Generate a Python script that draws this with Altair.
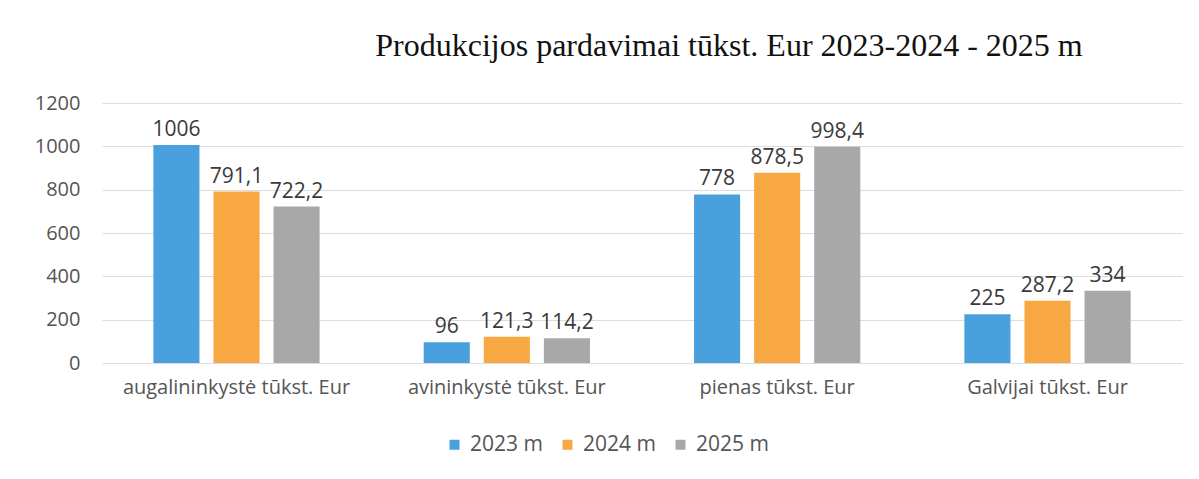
import altair as alt
import pandas as pd

categories = ["augalininkystė tūkst. Eur", "avininkystė tūkst. Eur", "pienas tūkst. Eur", "Galvijai tūkst. Eur"]
series = ["2023 m", "2024 m", "2025 m"]
v2023 = [1006, 96, 778, 225]
v2024 = [791.1, 121.3, 878.5, 287.2]
v2025 = [722.2, 114.2, 998.4, 334]
colors = ["#4A9FDD", "#F7A843", "#A8A8A8"]


def fmt(v):
    if float(v).is_integer():
        return str(int(v))
    return f"{v}".replace(".", ",")


rows = []
for s, vals in zip(series, [v2023, v2024, v2025]):
    for c, v in zip(categories, vals):
        rows.append({"cat": c, "series": s, "value": v, "label": fmt(v)})
df = pd.DataFrame(rows)

x = alt.X("cat:N", sort=categories, title=None,
          scale=alt.Scale(paddingInner=0.385, paddingOuter=0.19),
          axis=alt.Axis(labelAngle=0, labelFont="Open Sans", labelFontSize=20, labelLimit=0,
                        labelColor="#555555", ticks=False, domain=False, labelPadding=14,
                        grid=False))
xo = alt.XOffset("series:N", sort=series, scale=alt.Scale(paddingInner=0.233, paddingOuter=0))
y = alt.Y("value:Q", title=None,
          scale=alt.Scale(domain=[0, 1200]),
          axis=alt.Axis(values=[0, 200, 400, 600, 800, 1000, 1200], format="d",
                        labelFont="Open Sans",
                        labelFontSize=20, labelColor="#555555", ticks=False, domain=False,
                        labelPadding=22, grid=True, gridColor="#DDDDDD", gridWidth=1))

bars = alt.Chart(df).mark_bar().encode(
    x=x, xOffset=xo, y=y,
    color=alt.Color("series:N", sort=series,
                    scale=alt.Scale(domain=series, range=colors),
                    legend=alt.Legend(title=None, orient="none", direction="horizontal",
                                      legendX=342, legendY=331,
                                      symbolType="square", symbolSize=100,
                                      labelFont="Open Sans", labelFontSize=21,
                                      labelColor="#555555", columnPadding=14,
                                      labelOffset=5, symbolStrokeWidth=0)),
)

text = alt.Chart(df).mark_text(dy=-15, font="Open Sans", fontSize=21, color="#3A3A3A").encode(
    x=alt.X("cat:N", sort=categories), xOffset=alt.XOffset("series:N", sort=series),
    y=alt.Y("value:Q"), text="label:N",
)

chart = (bars + text).properties(
    width=1080, height=260,
    padding={"left": 26, "top": 22, "right": 5, "bottom": 5},
    title=alt.TitleParams("Produkcijos pardavimai tūkst. Eur 2023-2024 - 2025 m",
                          font="Liberation Serif", fontSize=32, fontWeight="normal",
                          color="#111111", dx=87, offset=30),
).configure_view(stroke=None)

chart.save("out.html", embed_options={"renderer": "svg", "actions": False})
